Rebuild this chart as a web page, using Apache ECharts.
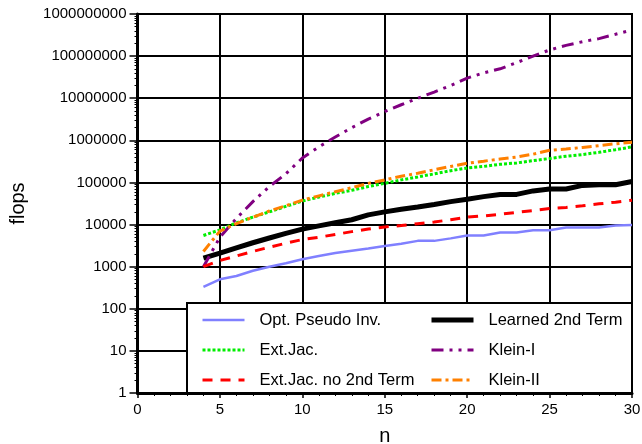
<!DOCTYPE html>
<html><head><meta charset="utf-8">
<script src="https://cdn.jsdelivr.net/npm/echarts@6/dist/echarts.min.js"></script>
<style>html,body{margin:0;padding:0;background:#fff}#c{width:642px;height:444px}</style>
</head><body><div id="c"></div>
<script>
const nValues = [4,5,6,7,8,9,10,11,12,13,14,15,16,17,18,19,20,21,22,23,24,25,26,27,28,29,30];
const optPseudoInv = [330,500,600,800,1000,1200,1500,1800,2100,2400,2700,3100,3500,4100,4100,4700,5500,5500,6500,6500,7300,7300,8500,8500,8500,9500,9800];
const learned2nd = [1600,2100,2800,3700,4800,6200,7800,9300,11000,13000,17000,20000,23000,26000,30000,35000,40000,46000,52000,52000,63000,70000,70000,85000,88000,88000,105000];
const extJac = [5500,7500,11000,15000,20000,27000,36000,45000,55000,65000,80000,95000,115000,135000,160000,190000,220000,240000,270000,290000,330000,370000,420000,460000,520000,600000,700000];
const kleinI = [1000,5000,14000,35000,80000,160000,380000,700000,1200000,2000000,3200000,4800000,7000000,10000000,14000000,20000000,30000000,40000000,50000000,70000000,100000000,140000000,180000000,220000000,260000000,330000000,420000000];
const extJacNo2nd = [1000,1400,1800,2300,2900,3600,4400,5000,5800,6800,7800,8800,9500,10500,11500,13000,15000,16000,17500,19500,21500,24000,25500,28000,31000,34000,38000];
const kleinII = [2300,7000,10500,15000,21000,28000,38000,48000,60000,75000,95000,115000,140000,165000,200000,240000,285000,320000,360000,400000,470000,580000,620000,680000,750000,830000,900000];
const legendCol1 = ['Opt. Pseudo Inv.','Ext.Jac.','Ext.Jac. no 2nd Term'];
const legendCol2 = ['Learned 2nd Term','Klein-I','Klein-II'];

const font = 'Liberation Sans, Arial, sans-serif';
const pair = arr => nValues.map((n,i)=>[n,arr[i]]);
const mk = (name, data, color, width, type) => ({
  name, type:'line', data:pair(data), symbol:'none', showSymbol:false,
  lineStyle:{color, width, type}, itemStyle:{color}, z:3
});
const legendCommon = {orient:'vertical',top:305,itemWidth:42,itemHeight:14,itemGap:10,z:10,
  itemStyle:{opacity:0}, lineStyle:{width:'inherit'},
  textStyle:{fontFamily:font,fontSize:16.5,lineHeight:20,color:'#000',padding:[0,0,0,10]}};
const chart = echarts.init(document.getElementById('c'));
chart.setOption({
  animation:false,
  backgroundColor:'#fff',
  grid:{left:137.5,right:10,top:14,bottom:51,containLabel:false,outerBoundsMode:'none',show:true,borderColor:'#000',borderWidth:2},
  xAxis:{type:'value',min:0,max:30,interval:5,
    name:'n',nameLocation:'middle',nameGap:33,nameTextStyle:{fontFamily:font,fontSize:20,color:'#000'},
    axisLine:{lineStyle:{color:'#000',width:3}},
    axisTick:{show:true,length:5,lineStyle:{color:'#000',width:1.5}},
    minorTick:{show:true,splitNumber:5,length:3,lineStyle:{color:'#000',width:1}},
    axisLabel:{fontFamily:font,fontSize:15,color:'#000',margin:9},
    splitLine:{show:true,lineStyle:{color:'#000',width:2}}},
  yAxis:{type:'log',logBase:10,min:1,max:1e9,
    name:'flops',nameLocation:'middle',nameGap:109,nameRotate:90,nameTextStyle:{fontFamily:font,fontSize:20,color:'#000'},
    axisLine:{lineStyle:{color:'#000',width:3}},
    axisTick:{show:true,length:8,lineStyle:{color:'#000',width:1.5}},
    minorTick:{show:true,splitNumber:9,length:3,lineStyle:{color:'#000',width:1}},
    axisLabel:{fontFamily:font,fontSize:15,color:'#000',margin:11,padding:[0,0,5,0],formatter:v=>String(Math.round(v))},
    splitLine:{show:true,lineStyle:{color:'#000',width:2}}},
  graphic:[{type:'rect',z:5,shape:{x:187,y:303,width:445,height:90},style:{fill:'#fff',stroke:'#000',lineWidth:2}}],
  legend:[
    Object.assign({data:legendCol1,left:196},legendCommon),
    Object.assign({data:legendCol2,left:424},legendCommon)
  ],
  series:[
    mk('Opt. Pseudo Inv.',optPseudoInv,'#8080ff',2.5,'solid'),
    mk('Learned 2nd Term',learned2nd,'#000000',5,'solid'),
    mk('Ext.Jac.',extJac,'#00ee00',3,[3,2]),
    mk('Klein-I',kleinI,'#800080',3,[12,6,3,6,3,6]),
    mk('Ext.Jac. no 2nd Term',extJacNo2nd,'#ff0000',3,[10,8]),
    mk('Klein-II',kleinII,'#ff8000',3,[10,4,3,4])
  ]
});
</script></body></html>
